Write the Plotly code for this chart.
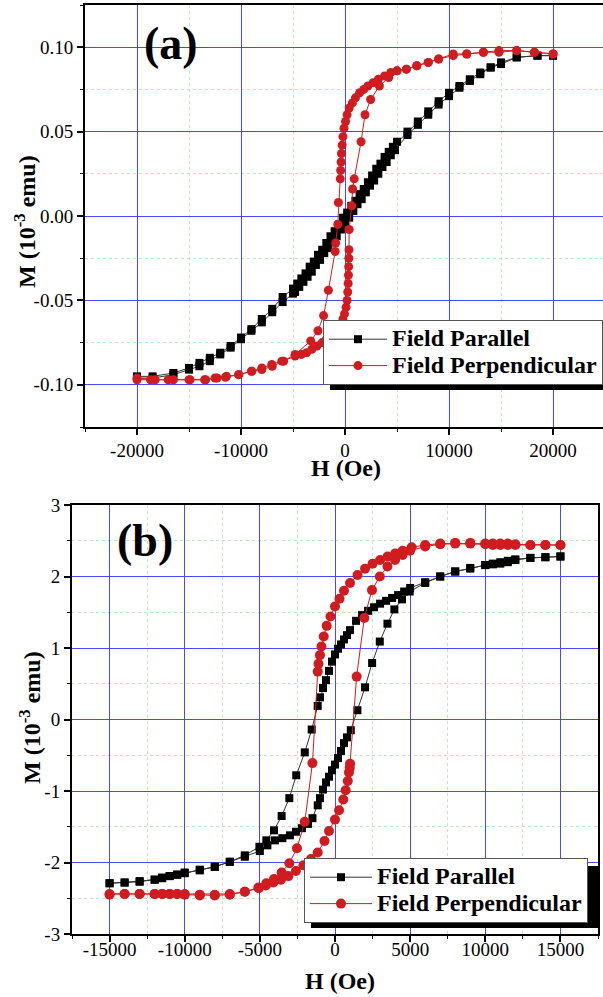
import plotly.graph_objects as go

W, H = 603, 997

# ---------------- Panel (a) data ----------------
a_par_H_down = [20000, 18500, 16500, 15000, 14000, 13000, 12000, 11000, 10000, 9000, 8000, 7000, 6000, 5000,
                4600, 4200, 3800, 3400, 3000, 2600, 2200, 1800, 1400, 1000, 600, 200, -200, -600, -1000,
                -1400, -1800, -2200, -2600, -3000, -3400, -3800, -4200, -4600, -5000,
                -6000, -7000, -8000, -9000, -10000, -11000, -12000, -13000, -14000, -15000, -16500, -18500, -20000]
a_par_M_down = [0.095, 0.095, 0.094, 0.091, 0.088, 0.085, 0.081, 0.077, 0.073, 0.068, 0.062, 0.056, 0.050, 0.044,
                0.041, 0.038, 0.035, 0.031, 0.028, 0.024, 0.020, 0.016, 0.013, 0.009, 0.006, 0.002, -0.001, -0.005, -0.009,
                -0.012, -0.016, -0.020, -0.023, -0.027, -0.030, -0.034, -0.037, -0.040, -0.043,
                -0.048, -0.055, -0.061, -0.067, -0.072, -0.077, -0.081, -0.084, -0.087, -0.090, -0.093, -0.095, -0.095]
a_par_H_up = [-20000, -18500, -16500, -15000, -14000, -13000, -12000, -11000, -10000, -9000, -8000, -7000, -6000, -5000,
              -4800, -4400, -4000, -3600, -3200, -2800, -2400, -2000, -1600, -1200, -800, -400, 0, 400, 800,
              1200, 1600, 2000, 2400, 2800, 3200, 3600, 4000, 4400, 4800,
              6000, 7000, 8000, 9000, 10000, 11000, 12000, 13000, 14000, 15000, 16500, 18500, 20000]
a_par_M_up = [-0.096, -0.096, -0.094, -0.091, -0.089, -0.086, -0.082, -0.078, -0.073, -0.068, -0.063, -0.057, -0.051, -0.046,
              -0.045, -0.042, -0.039, -0.036, -0.033, -0.029, -0.026, -0.022, -0.019, -0.015, -0.012, -0.008, -0.004, -0.001, 0.003,
              0.007, 0.010, 0.014, 0.018, 0.021, 0.025, 0.029, 0.032, 0.036, 0.039,
              0.048, 0.054, 0.060, 0.066, 0.071, 0.076, 0.080, 0.084, 0.088, 0.090, 0.094, 0.095, 0.095]

a_perp_H_down = [20000, 18200, 16500, 14800, 13300, 11700, 10400, 9000, 8000, 6900, 5900,
                 5000, 4400, 3800, 3200, 2700, 2200, 1800, 1400, 1000, 700, 400, 200, 50, -100, -200, -280, -340, -380, -420, -460,
                 -640, -700, -900, -950, -1600, -2060, -2600, -3300,
                 -4800, -5900, -7000, -8000, -9000, -10200, -11400, -12300, -13500, -15000, -17000, -18700, -20000]
a_perp_M_down = [0.096, 0.097, 0.098, 0.098, 0.097, 0.096, 0.096, 0.093, 0.091, 0.089, 0.087,
                 0.086, 0.085, 0.083, 0.081, 0.079, 0.077, 0.075, 0.073, 0.070, 0.067, 0.064, 0.060, 0.056, 0.052, 0.047, 0.042, 0.037, 0.032, 0.027, 0.022,
                 0.008, -0.005, -0.016, -0.021, -0.044, -0.059, -0.068, -0.074,
                 -0.082, -0.086, -0.089, -0.091, -0.092, -0.094, -0.095, -0.096, -0.097, -0.097, -0.097, -0.097, -0.097]
a_perp_H_up = [-20000, -18250, -16500, -14900, -13400, -12500, -11500, -10240, -8960, -8000, -7040, -6080,
               -4800, -4200, -3700, -3200, -2700, -2200, -1800, -1400, -1000, -700, -400, -200, -50, 100, 200, 260, 300, 330, 350, 370, 380,
               400, 640, 730, 880, 1540, 1920, 2460, 3300, 4200,
               5000, 5900, 6900, 8000, 9000, 10400, 11700, 13300, 14800, 16500, 18200, 20000]
a_perp_M_up = [-0.096, -0.097, -0.097, -0.097, -0.097, -0.096, -0.0955, -0.094, -0.092, -0.090, -0.088, -0.086,
               -0.083, -0.082, -0.081, -0.079, -0.077, -0.075, -0.073, -0.071, -0.069, -0.067, -0.064, -0.061, -0.058, -0.054, -0.050, -0.045, -0.040, -0.035, -0.030, -0.025, -0.020,
               -0.008, 0.006, 0.016, 0.022, 0.044, 0.060, 0.069, 0.077, 0.082,
               0.086, 0.087, 0.089, 0.091, 0.093, 0.095, 0.096, 0.097, 0.097, 0.098, 0.097, 0.096]

a_xticks = [-20000, -10000, 0, 10000, 20000]
a_xlabels = ["-20000", "-10000", "0", "10000", "20000"]
a_xminor = [-25000, -15000, -5000, 5000, 15000]
a_yticks = [-0.10, -0.05, 0.0, 0.05, 0.10]
a_ylabels = ["-0.10", "-0.05", "0.00", "0.05", "0.10"]
a_yminor = [-0.125, -0.075, -0.025, 0.025, 0.075, 0.125]

# ---------------- Panel (b) data ----------------
b_par_H_down = [15000, 14000, 13000, 12000, 11500, 11000, 10500, 10000, 9000, 8000, 7000, 6000, 5000,
                4600, 4200, 3800, 3400, 3000, 2600, 2200, 1800, 1400,
                1000, 800, 600, 400, 200, 0, -200, -400, -600, -800, -1000, -1150,
                -1550, -2010, -2580, -3040, -3550, -4060, -4570, -5030,
                -6000, -7000, -8000, -9000, -10000, -10500, -11000, -11500, -12000, -13000, -14000, -15000]
b_par_M_down = [2.28, 2.27, 2.26, 2.23, 2.20, 2.18, 2.17, 2.16, 2.11, 2.07, 2.00, 1.92, 1.84,
                1.79, 1.74, 1.70, 1.66, 1.62, 1.57, 1.52, 1.46, 1.38,
                1.25, 1.18, 1.12, 1.05, 0.99, 0.91, 0.81, 0.68, 0.55, 0.44, 0.31, 0.19,
                -0.14, -0.46, -0.78, -1.10, -1.35, -1.55, -1.69, -1.78,
                -1.90, -1.99, -2.06, -2.11, -2.15, -2.17, -2.19, -2.21, -2.24, -2.26, -2.28, -2.29]
b_par_H_up = [-15000, -14000, -13000, -12000, -11500, -11000, -10500, -10000, -9000, -8000, -7000, -6000, -5000,
              -4500, -4000, -3500, -3000, -2600, -2200, -1800, -1500,
              -1150, -1000, -800, -600, -400, -200, 0, 200, 400, 600, 800, 1050,
              1490, 2000, 2470, 2980, 3490, 3950, 4460, 4970,
              6000, 7000, 8000, 9000, 10000, 10500, 11000, 11500, 12000, 13000, 14000, 15000]
b_par_M_up = [-2.29, -2.28, -2.27, -2.24, -2.22, -2.19, -2.17, -2.14, -2.10, -2.06, -1.99, -1.92, -1.84,
              -1.76, -1.69, -1.66, -1.62, -1.57, -1.52, -1.46, -1.38,
              -1.20, -1.10, -0.98, -0.88, -0.80, -0.71, -0.63, -0.54, -0.44, -0.33, -0.25, -0.15,
              0.13, 0.45, 0.79, 1.09, 1.34, 1.54, 1.68, 1.79,
              1.91, 2.00, 2.07, 2.12, 2.16, 2.18, 2.20, 2.22, 2.24, 2.26, 2.27, 2.28]

b_perp_H_down = [15000, 14000, 13000, 12000, 11500, 11000, 10500, 10000, 9000, 8000, 7000, 6000,
                 5100, 4500, 4000, 3500, 3000, 2500, 2000, 1500, 1000, 600, 300, 0, -300, -550, -750, -900, -1000, -1100, -1150,
                 -1500, -2010, -2530, -3040, -3550, -4060, -4570, -5070,
                 -6000, -7000, -8000, -9000, -10000, -10500, -11000, -11500, -12000, -13000, -14000, -15000]
b_perp_M_down = [2.44, 2.44, 2.44, 2.45, 2.46, 2.46, 2.46, 2.46, 2.47, 2.47, 2.46, 2.44,
                 2.41, 2.36, 2.32, 2.28, 2.23, 2.18, 2.11, 2.02, 1.91, 1.80, 1.69, 1.58, 1.44, 1.31, 1.16, 1.02, 0.90, 0.78, 0.67,
                 -0.61, -1.43, -1.80, -2.01, -2.14, -2.23, -2.29, -2.36,
                 -2.41, -2.45, -2.46, -2.46, -2.45, -2.44, -2.44, -2.44, -2.44, -2.44, -2.44, -2.44]
b_perp_H_up = [-15000, -14000, -13000, -12000, -11500, -11000, -10500, -10000, -9000, -8000, -7000, -6000,
               -5100, -4600, -4100, -3600, -3100, -2600, -2100, -1600, -1150, -700, -400, 0, 270, 550, 710, 850, 930, 980, 1000,
               1440, 1950, 2460, 2980, 3490, 4000, 4500, 5000,
               6000, 7000, 8000, 9000, 10000, 10500, 11000, 11500, 12000, 13000, 14000, 15000]
b_perp_M_up = [-2.45, -2.44, -2.44, -2.44, -2.44, -2.44, -2.44, -2.44, -2.45, -2.45, -2.44, -2.41,
               -2.35, -2.32, -2.28, -2.24, -2.19, -2.12, -2.04, -1.95, -1.86, -1.70, -1.56, -1.40, -1.27, -1.12, -0.99, -0.86, -0.74, -0.68, -0.62,
               0.60, 1.42, 1.81, 2.00, 2.14, 2.23, 2.30, 2.36,
               2.42, 2.45, 2.46, 2.46, 2.45, 2.44, 2.44, 2.44, 2.44, 2.44, 2.44, 2.44]

b_xticks = [-15000, -10000, -5000, 0, 5000, 10000, 15000]
b_xlabels = ["-15000", "-10000", "-5000", "0", "5000", "10000", "15000"]
b_xminor = [-17500, -12500, -7500, -2500, 2500, 7500, 12500, 17500]
b_yticks = [-3, -2, -1, 0, 1, 2, 3]
b_ylabels = ["-3", "-2", "-1", "0", "1", "2", "3"]
b_yminor = [-2.5, -1.5, -0.5, 0.5, 1.5, 2.5]

series_names = ["Field Parallel", "Field Perpendicular"]

# ---------------- styling ----------------
SERIF = "Liberation Serif"
RED = "#d01c20"
MAJOR_GRID = "#4848ff"
MINOR_GRID = "#b6ecb6"


def px(x):
    return x / W


def py(y):
    return 1 - y / H


def legend_label(name):
    # larger glyphs than the legend's row-spacing font
    return "<b><span style='font-size:24px'>" + name + "</span></b>"


fig = go.Figure()

fig.add_trace(go.Scatter(x=a_par_H_down + a_par_H_up, y=a_par_M_down + a_par_M_up, mode="lines+markers",
                         name=legend_label(series_names[0]), xaxis="x", yaxis="y", legend="legend",
                         line=dict(color="#333333", width=1),
                         marker=dict(symbol="square", size=8, color="black")))
fig.add_trace(go.Scatter(x=a_perp_H_down + a_perp_H_up, y=a_perp_M_down + a_perp_M_up, mode="lines+markers",
                         name=legend_label(series_names[1]), xaxis="x", yaxis="y", legend="legend",
                         line=dict(color=RED, width=1),
                         marker=dict(symbol="circle", size=9, color=RED)))
fig.add_trace(go.Scatter(x=b_par_H_down + b_par_H_up, y=b_par_M_down + b_par_M_up, mode="lines+markers",
                         name=legend_label(series_names[0]), xaxis="x2", yaxis="y2", legend="legend2",
                         line=dict(color="#333333", width=1),
                         marker=dict(symbol="square", size=8, color="black")))
fig.add_trace(go.Scatter(x=b_perp_H_down + b_perp_H_up, y=b_perp_M_down + b_perp_M_up, mode="lines+markers",
                         name=legend_label(series_names[1]), xaxis="x2", yaxis="y2", legend="legend2",
                         line=dict(color=RED, width=1),
                         marker=dict(symbol="circle", size=10, color=RED)))

tickfont = dict(family=SERIF, size=19, color="black")


def axis(domain, rng, tv, tt, minor_vals, anchor, standoff=0):
    return dict(domain=domain, range=rng, anchor=anchor, tickmode="array", tickvals=tv, ticktext=tt,
                ticks="outside", ticklen=6, tickwidth=1.5, tickcolor="black",
                showline=True, linewidth=2, linecolor="black", mirror=True,
                showgrid=True, gridcolor=MAJOR_GRID, gridwidth=1, zeroline=False,
                tickfont=tickfont, ticklabelstandoff=standoff, automargin=False,
                minor=dict(tickmode="array", tickvals=minor_vals, ticks="outside", ticklen=3,
                           tickwidth=1.2, tickcolor="black", showgrid=True,
                           gridcolor=MINOR_GRID, griddash="dot", gridwidth=1))


legend_font = dict(family=SERIF, size=18, color="black", weight="bold")

fig.update_layout(
    width=W, height=H, autosize=False,
    margin=dict(l=0, r=0, t=0, b=0, pad=0, autoexpand=False),
    paper_bgcolor="white", plot_bgcolor="white",
    xaxis=axis([px(85), 1.0], [-25000, 24800], a_xticks, a_xlabels, a_xminor, "y", standoff=-1),
    yaxis=axis([py(427), py(5)], [-0.125, 0.125], a_yticks, a_ylabels, a_yminor, "x"),
    xaxis2=axis([px(72), px(598)], [-17500, 17500], b_xticks, b_xlabels, b_xminor, "y2", standoff=-9),
    yaxis2=axis([py(934), py(505)], [-3, 3], b_yticks, b_ylabels, b_yminor, "x2"),
    legend=dict(x=px(323), y=py(320), xanchor="left", yanchor="top",
                bgcolor="white", bordercolor="#555555", borderwidth=1,
                font=legend_font, itemwidth=58, tracegroupgap=0),
    legend2=dict(x=px(304), y=py(858), xanchor="left", yanchor="top",
                 bgcolor="white", bordercolor="#555555", borderwidth=1,
                 font=legend_font, itemwidth=62, tracegroupgap=0),
    showlegend=True,
)

# legend drop shadows
fig.add_shape(type="rect", xref="paper", yref="paper", x0=px(330), x1=1.0, y0=py(390), y1=py(328),
              fillcolor="black", line=dict(width=0), layer="above")
fig.add_shape(type="rect", xref="paper", yref="paper", x0=px(311), x1=px(598), y0=py(928), y1=py(866),
              fillcolor="black", line=dict(width=0), layer="above")

title_font = dict(family=SERIF, size=24, color="black")
ann = [
    dict(text="<b>(a)</b>", x=px(171), y=py(44), font=dict(family=SERIF, size=46, color="black")),
    dict(text="<b>(b)</b>", x=px(145), y=py(540), font=dict(family=SERIF, size=46, color="black")),
    dict(text="<b>H (Oe)</b>", x=px(346), y=py(468), font=title_font),
    dict(text="<b>H (Oe)</b>", x=px(340), y=py(981), font=title_font),
    dict(text="<b>M (10<sup>-3</sup> emu)</b>", x=px(25), y=py(222), textangle=-90, font=title_font),
    dict(text="<b>M (10<sup>-3</sup> emu)</b>", x=px(30), y=py(718), textangle=-90, font=title_font),
]
for a in ann:
    a.update(xref="paper", yref="paper", showarrow=False, xanchor="center", yanchor="middle")
fig.update_layout(annotations=ann)

fig.write_html("out.html", config={"displayModeBar": False},
               post_script="document.body.style.margin='0';document.body.style.padding='0';"
                           "document.documentElement.style.overflow='hidden';")
